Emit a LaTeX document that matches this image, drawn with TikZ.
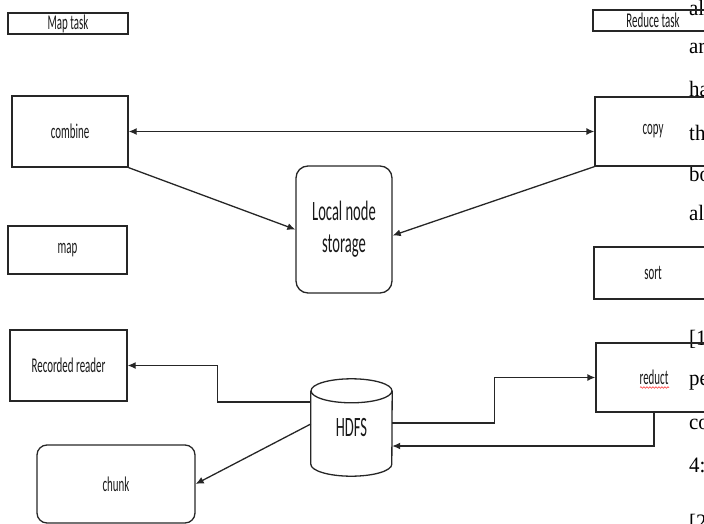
\documentclass[tikz,border=0pt]{standalone}
\usepackage{fontspec}
\newfontfamily\boxfont{Carlito}[FakeStretch=0.52]
\newfontfamily\pagefont{Liberation Serif}[FakeStretch=0.95]
\usetikzlibrary{arrows.meta, decorations.pathmorphing}

\tikzset{
  taskbox/.style={draw=black!85, line width=1.3pt, inner sep=0pt, text=black!90,
    font=\boxfont\fontsize{21}{24}\selectfont},
  storebox/.style={taskbox, rounded corners=12pt, align=center,
    font=\boxfont\fontsize{28}{32}\selectfont},
  flow/.style={line width=1.3pt, draw=black!85, -{Latex[length=8pt,width=7pt]}},
  pagetext/.style={anchor=base west, inner sep=0pt,
    font=\pagefont\fontsize{22}{26}\selectfont},
}

\begin{document}
\begin{tikzpicture}[x=1pt,y=-1pt]
\useasboundingbox (0,0) rectangle (704,524);
\clip (0,0) rectangle (704,524);

% text of the page behind the figure
\node[pagetext] (pgA) at (689,16) {al};
\node[pagetext] (pgB) at (689,54) {ar};
\node[pagetext] (pgC) at (689,97) {ha};
\node[pagetext] (pgD) at (689,140) {th};
\node[pagetext] (pgE) at (689,181) {bo};
\node[pagetext] (pgF) at (689,220) {al};
\node[pagetext] (pgG) at (689,345) {[1};
\node[pagetext] (pgH) at (689,385) {pe};
\node[pagetext] (pgI) at (689,429) {co};
\node[pagetext] (pgJ) at (689,472) {4:};
\node[pagetext] (pgK) at (689,529) {[2};

% map side
\node[taskbox, minimum width=120pt, minimum height=21pt] (maptask) at (68,23.5) {Map task};
\node[taskbox, minimum width=116pt, minimum height=71pt] (combine) at (70,131.5) {combine};
\node[taskbox, minimum width=119pt, minimum height=48pt] (map) at (67.5,250) {map};
\node[taskbox, minimum width=117pt, minimum height=71pt] (reader) at (68.5,365.5) {Recorded reader};
\node[taskbox, rounded corners=10pt, minimum width=158pt, minimum height=78pt] (chunk) at (116,484) {chunk};

% reduce side
\node[taskbox, minimum width=120pt, minimum height=21pt] (reducetask) at (653,20.5) {Reduce task};
\node[taskbox, minimum width=116pt, minimum height=69pt] (copy) at (653,131.5) {copy};
\node[taskbox, minimum width=118pt, minimum height=52pt] (sort) at (653,273) {sort};
\node[taskbox, minimum width=116pt, minimum height=69pt] (reduct) at (654,377.5) {reduct};
\draw[red!80, line width=0.6pt, decorate, decoration={snake, amplitude=0.8pt, segment length=3pt}]
  ([xshift=-14pt,yshift=-10pt]reduct.center) -- ([xshift=15pt,yshift=-10pt]reduct.center);

% middle
\node[storebox, minimum width=96pt, minimum height=127pt] (storage) at (344,229.5) {Local node\\storage};
\node[inner sep=0pt, minimum width=81pt, minimum height=73pt, text=black!90,
  font=\boxfont\fontsize{28}{32}\selectfont] (hdfs) at (351.5,427.5) {HDFS};
\draw[draw=black!85, line width=1.3pt] (hdfs.north) ellipse [x radius=40.5pt, y radius=12pt];
\draw[draw=black!85, line width=1.3pt] (hdfs.north west) -- (hdfs.south west)
  arc[start angle=180, end angle=360, x radius=40.5pt, y radius=12pt] -- (hdfs.north east);

% connectors
\draw[line width=1.3pt, draw=black!85, {Latex[length=8pt,width=7pt]}-{Latex[length=8pt,width=7pt]}]
  (combine.east) -- (copy.west);
\draw[flow] (combine.south east) -- (storage.west);
\draw[flow] (copy.south west) -- ([yshift=-6pt]storage.east);
\draw[flow] ([yshift=25.5pt]hdfs.west) -- ++(-93,0) |- (reader.east);
\draw[flow] ([yshift=3.5pt]hdfs.west) -- (chunk.east);
\draw[flow] ([yshift=4.5pt]hdfs.east) -- ++(102,0) |- (reduct.west);
\draw[flow] (reduct.south) |- ([yshift=-18.5pt]hdfs.east);
\end{tikzpicture}
\end{document}
